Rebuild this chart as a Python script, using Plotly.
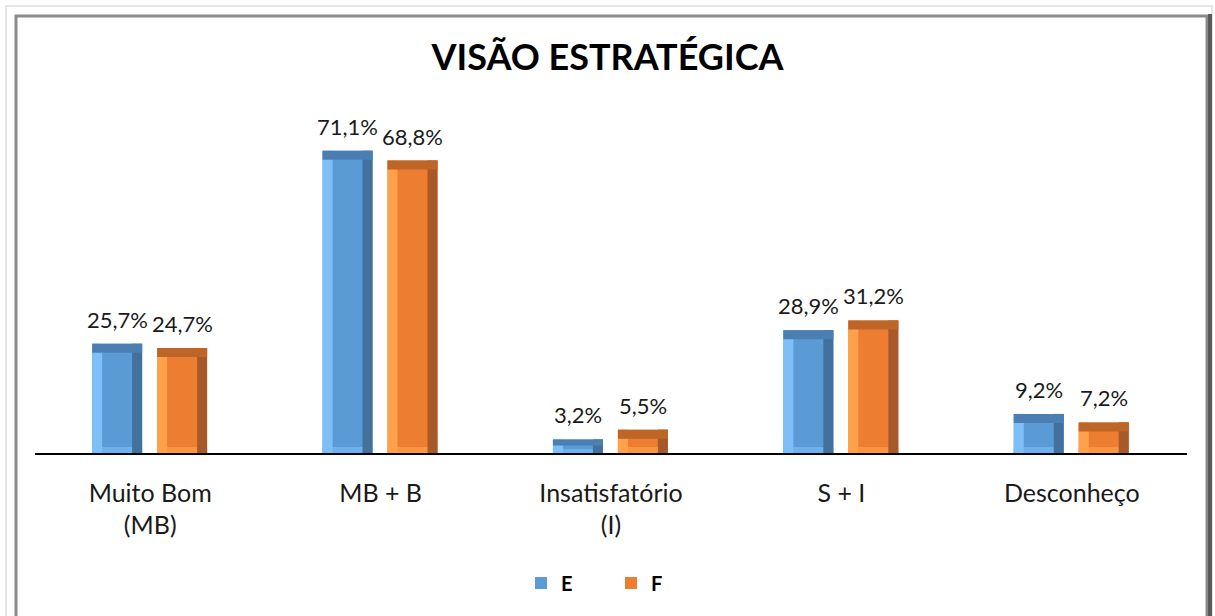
import plotly.graph_objects as go

categories = ["Muito Bom<br>(MB)", "MB + B", "Insatisfatório<br>(I)", "S + I", "Desconheço"]
series_names = ["E", "F"]
values_E = [25.7, 71.1, 3.2, 28.9, 9.2]
values_F = [24.7, 68.8, 5.5, 31.2, 7.2]
labels_E = ["25,7%", "71,1%", "3,2%", "28,9%", "9,2%"]
labels_F = ["24,7%", "68,8%", "5,5%", "31,2%", "7,2%"]

W, H = 1215, 616
L, R, T, B = 35, 28, 100, 163
PW, PH = W - L - R, H - T - B
YMAX = 83.06
FONT = "Lato, Open Sans, sans-serif"

x = list(range(len(categories)))
unit = PW / len(categories)
bw = 50 / unit
edge = 10 / unit
top_h = 9 * YMAX / PH
bot_h = 6 * YMAX / PH

styles = {
    "E": dict(off=-0.252, main="#5B9BD5", light="#7DC0F7", dark="#41719C", top="#4B7FB3", bot="#6DB0EE"),
    "F": dict(off=0.030, main="#ED7D31", light="#FFA04A", dark="#A8592A", top="#BE6528", bot="#F99540"),
}

fig = go.Figure()
annotations = []
for name, vals, labs in [("E", values_E, labels_E), ("F", values_F, labels_F)]:
    s = styles[name]
    fig.add_trace(go.Bar(x=x, y=vals, name="<b>" + name + "</b>", width=bw, offset=s["off"],
                         marker=dict(color=s["main"], line=dict(width=0)),
                         showlegend=True, legendgroup=name, hoverinfo="skip"))
    bots = [min(bot_h, v * 0.3) for v in vals]
    fig.add_trace(go.Bar(x=x, y=bots, width=bw, offset=s["off"],
                         marker=dict(color=s["bot"], line=dict(width=0)),
                         showlegend=False, legendgroup=name, hoverinfo="skip"))
    fig.add_trace(go.Bar(x=x, y=vals, width=edge, offset=s["off"],
                         marker=dict(color=s["light"], line=dict(width=0)),
                         showlegend=False, legendgroup=name, hoverinfo="skip"))
    fig.add_trace(go.Bar(x=x, y=vals, width=edge, offset=s["off"] + bw - edge,
                         marker=dict(color=s["dark"], line=dict(width=0)),
                         showlegend=False, legendgroup=name, hoverinfo="skip"))
    tops = [min(top_h, v * 0.45) for v in vals]
    fig.add_trace(go.Bar(x=x, y=tops, base=[v - t for v, t in zip(vals, tops)],
                         width=bw, offset=s["off"],
                         marker=dict(color=s["top"], line=dict(width=0)),
                         showlegend=False, legendgroup=name, hoverinfo="skip"))
    for xi, v, lab in zip(x, vals, labs):
        annotations.append(dict(x=xi + s["off"] + bw / 2, y=v, xref="x", yref="y", text=lab,
                                showarrow=False, yanchor="bottom", yshift=9,
                                font=dict(family=FONT, size=22, color="#1a1a1a")))


def px(xp):
    return (xp - L) / PW


def py(yp):
    return (H - B - yp) / PH


shapes = [
    dict(type="rect", xref="paper", yref="paper", x0=px(6), x1=px(1212), y0=py(640), y1=py(6),
         line=dict(color="#e6e6e6", width=2), layer="below"),
    dict(type="rect", xref="paper", yref="paper", x0=px(16), x1=px(1207), y0=py(640), y1=py(16),
         line=dict(color="#8a8a8a", width=3), layer="below"),
    dict(type="line", xref="paper", yref="paper", x0=px(1210), x1=px(1210), y0=py(640), y1=py(14),
         line=dict(color="#5a5a5a", width=4), layer="below"),
]

fig.update_layout(
    width=W, height=H,
    margin=dict(l=L, r=R, t=T, b=B),
    paper_bgcolor="white", plot_bgcolor="white",
    barmode="overlay",
    title=dict(text="<b>VISÃO ESTRATÉGICA</b>", x=0.5, xanchor="center", y=1 - 57 / H,
               yanchor="middle", font=dict(family=FONT, size=36, color="black")),
    xaxis=dict(tickmode="array", tickvals=x, ticktext=categories, range=[-0.5, 4.5],
               showline=True, linecolor="black", linewidth=1.5, showgrid=False, ticks="",
               ticklabelstandoff=17,
               tickfont=dict(family=FONT, size=25, color="#1a1a1a"), fixedrange=True),
    yaxis=dict(range=[0, YMAX], visible=False, showgrid=False, fixedrange=True),
    legend=dict(orientation="h", x=0.5, xanchor="center", y=py(583), yanchor="middle",
                font=dict(family=FONT, size=20, color="black"), entrywidth=45,
                itemsizing="constant", traceorder="normal"),
    shapes=shapes,
    annotations=annotations,
    showlegend=True,
)

fig.write_html("out.html", config={"displayModeBar": False},
               post_script="document.body.style.margin='0px';")
